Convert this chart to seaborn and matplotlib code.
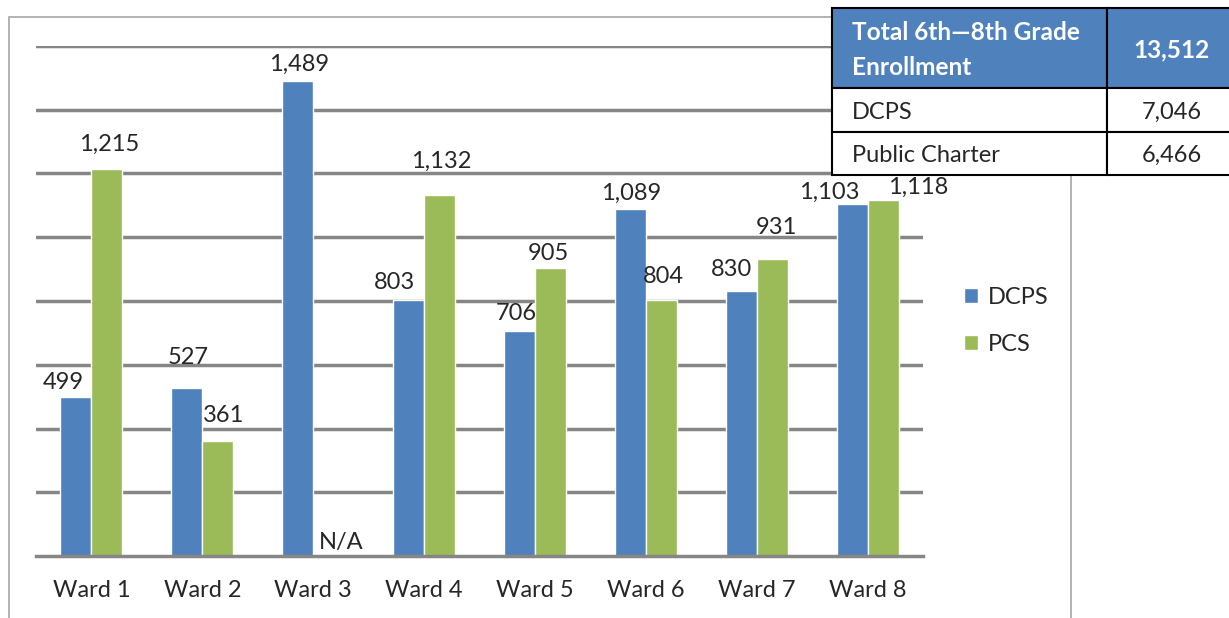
import matplotlib.pyplot as plt
import pandas as pd
import seaborn as sns
from matplotlib.patches import Rectangle

# data
wards = ['Ward 1', 'Ward 2', 'Ward 3', 'Ward 4', 'Ward 5', 'Ward 6', 'Ward 7', 'Ward 8']
dcps = [499, 527, 1489, 803, 706, 1089, 830, 1103]
pcs = [1215, 361, None, 1132, 905, 804, 931, 1118]
sectors = ['DCPS', 'PCS']

table_title = 'Total 6th\u20148th Grade\nEnrollment'
table_total = '13,512'
table_rows = ['DCPS', 'Public Charter']
table_values = ['7,046', '6,466']

# label nudges in pixels (dx, dy of text centre above bar top), Excel moved some of them
label_shift = {
    'DCPS': [(-13, 15), (1, 32), (1, 18), (-14, 19), (-3, 18), (1, 17), (-10, 23), (-23, 13)],
    'PCS': [(2, 25), (6, 26), (12, 14), (2, 35), (-2, 15), (2, 24), (4, 33), (35, 13)],
}

BLUE = '#4F81BD'
GREEN = '#9BBB59'
GRID = '#868686'
W, H = 1229, 618

sns.set_style('white')
plt.rcParams['font.family'] = ['Lato', 'DejaVu Sans']
FS = 17

df = pd.DataFrame({
    'ward': wards * 2,
    'sector': ['DCPS'] * len(wards) + ['PCS'] * len(wards),
    'students': dcps + pcs,
})
plot_df = df.dropna()

fig = plt.figure(figsize=(W / 100, H / 100), dpi=100)
ax = fig.add_axes([36 / W, (H - 556) / H, (923 - 36) / W, (556 - 46) / H])

sns.barplot(data=plot_df, x='ward', y='students', hue='sector', order=wards,
            hue_order=sectors, palette=[BLUE, GREEN], saturation=1,
            width=0.56, ax=ax, legend=True)

ax.set_xlim(-0.5, len(wards) - 0.5)
ax.set_ylim(0, 1600)
ax.set_yticks(range(200, 1601, 200))
ax.set_yticklabels([])
ax.tick_params(axis='y', length=0)
ax.yaxis.grid(True, color=GRID, linewidth=2.5)
ax.set_axisbelow(True)
ax.set_xlabel('')
ax.set_ylabel('')
for side in ['left', 'right', 'top']:
    ax.spines[side].set_visible(False)
ax.spines['bottom'].set_color(GRID)
ax.spines['bottom'].set_linewidth(2.5)

ax.set_xticks(range(len(wards)))
ax.set_xticklabels(wards, fontsize=FS)
ax.tick_params(axis='x', which='major', length=0, pad=17)
ax.set_xticks([i - 0.5 for i in range(len(wards) + 1)], minor=True)
ax.tick_params(axis='x', which='minor', length=8, width=2.5, color=GRID, direction='out')

# value labels
for sector, cont in zip(sectors, ax.containers):
    vals = df[df.sector == sector]['students'].tolist()
    for bar in cont:
        cx = bar.get_x() + bar.get_width() / 2
        idx = int(round(cx))
        dx, dy = label_shift[sector][idx]
        ax.annotate(f'{int(vals[idx]):,}', (cx, bar.get_height()), xytext=(dx, dy - 7.5),
                    textcoords='offset pixels', ha='center', va='baseline', fontsize=FS)
for sector in sectors:
    vals = df[df.sector == sector]['students'].tolist()
    k = sectors.index(sector)
    for idx, v in enumerate(vals):
        if pd.isna(v):
            dx, dy = label_shift[sector][idx]
            cx = idx + (k - 0.5) * 0.28
            ax.annotate('N/A', (cx, 0), xytext=(dx, dy - 7.5), textcoords='offset pixels',
                        ha='center', va='baseline', fontsize=FS)

handles, labels = ax.get_legend_handles_labels()
ax.get_legend().remove()
fig.legend(handles, labels, loc='center left', bbox_to_anchor=(943 / W, 1 - 321 / H),
           frameon=False, fontsize=FS, handlelength=0.6, handleheight=0.6,
           handletextpad=0.4, labelspacing=1.1)


def fx(x):
    return x / W


def fy(y):
    return 1 - y / H


# outer chart frame
fig.add_artist(Rectangle((fx(9), -0.1), fx(1071 - 9), fy(17) + 0.1, transform=fig.transFigure,
                         fill=False, ec='#A6A6A6', lw=1.2))

# summary table in the corner
cells = [
    (832, 8, 1107, 88, BLUE),
    (1107, 8, 1260, 88, BLUE),
    (832, 88, 1107, 132, 'white'),
    (1107, 88, 1260, 132, 'white'),
    (832, 132, 1107, 175, 'white'),
    (1107, 132, 1260, 175, 'white'),
]
for x0, y0, x1, y1, c in cells:
    fig.add_artist(Rectangle((fx(x0), fy(y1)), fx(x1 - x0), (y1 - y0) / H,
                             transform=fig.transFigure, fc=c, ec='black', lw=1.5, zorder=5))

fig.text(fx(852), fy(50), table_title, ha='left', va='center', color='white',
         fontsize=FS + 0.6, fontweight='bold', linespacing=1.65, zorder=6)
fig.text(fx(1172), fy(50), table_total, ha='center', va='center', color='white',
         fontsize=FS + 0.6, fontweight='bold', zorder=6)
for i, (name, val) in enumerate(zip(table_rows, table_values)):
    yc = 112 + i * 43
    fig.text(fx(852), fy(yc), name, ha='left', va='center', fontsize=FS, zorder=6)
    fig.text(fx(1202), fy(yc), val, ha='right', va='center', fontsize=FS, zorder=6)

fig.savefig('out.png', dpi=100)
